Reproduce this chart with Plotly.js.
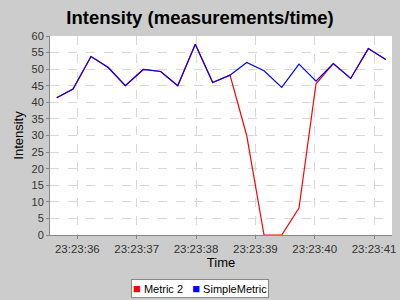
<!DOCTYPE html>
<html>
<head>
<meta charset="utf-8">
<script src="https://cdn.plot.ly/plotly-3.0.1.min.js"></script>
<style>html,body{margin:0;padding:0;background:#cccccc;}#chart{width:400px;height:300px;}</style>
</head>
<body>
<div id="chart"></div>
<script>
const times = ["2024-01-01 23:23:35.653","2024-01-01 23:23:35.928","2024-01-01 23:23:36.231","2024-01-01 23:23:36.522","2024-01-01 23:23:36.809","2024-01-01 23:23:37.112","2024-01-01 23:23:37.405","2024-01-01 23:23:37.692","2024-01-01 23:23:37.988","2024-01-01 23:23:38.281","2024-01-01 23:23:38.573","2024-01-01 23:23:38.854","2024-01-01 23:23:39.146","2024-01-01 23:23:39.444","2024-01-01 23:23:39.735","2024-01-01 23:23:40.022","2024-01-01 23:23:40.313","2024-01-01 23:23:40.606","2024-01-01 23:23:40.903","2024-01-01 23:23:41.196"];
const simpleMetric = [41.4,44.0,53.8,50.5,45.0,49.9,49.3,45.0,57.5,46.0,48.2,52.0,49.5,44.5,51.5,46.4,51.7,47.2,56.2,52.9];
const metric2 = [41.4,44.0,53.8,50.5,45.0,49.9,49.3,45.0,57.5,46.0,48.2,30.0,0,0,8.1,45.6,51.7,47.2,56.2,52.9];
const seriesNames = ["Metric 2","SimpleMetric"];
const seriesColors = ["#ff0000","#0000ff"];
const xRange = ["2024-01-01 23:23:35.54","2024-01-01 23:23:41.302"];

const traces = [
  {x: times, y: metric2, mode: 'lines', name: seriesNames[0], line: {color: seriesColors[0], width: 1.2}, showlegend: false, hoverinfo: 'skip'},
  {x: times, y: simpleMetric, mode: 'lines', name: seriesNames[1], line: {color: seriesColors[1], width: 1.2}, showlegend: false, hoverinfo: 'skip'}
];

const legendText = seriesNames.map((n, i) =>
  "<span style='color:" + seriesColors[i] + ";font-size:13px'>■</span> " + n
).join("&nbsp;&nbsp;&nbsp;");

const layout = {
  width: 400, height: 300,
  paper_bgcolor: '#cccccc', plot_bgcolor: '#ffffff',
  margin: {l: 50, r: 8, t: 36, b: 65},
  font: {family: 'Liberation Sans, Arial, sans-serif', color: '#000'},
  title: {text: 'Intensity (measurements/time)', font: {size: 18.5, family: 'Liberation Sans, Arial, sans-serif', weight: 'bold', color: '#000'}, x: 0.5, xanchor: 'center', y: 0.94, yanchor: 'middle'},
  xaxis: {
    type: 'date', range: xRange, dtick: 1000, tick0: '2024-01-01 23:23:36', tickformat: '%H:%M:%S',
    showgrid: true, gridcolor: '#d8d8d8', griddash: 'dash', gridwidth: 1,
    showline: true, linecolor: '#888888', linewidth: 1, mirror: false,
    ticks: 'outside', ticklen: 3, tickcolor: '#888888',
    tickfont: {size: 11.5, color: '#333'},
    title: {text: 'Time', font: {size: 13, color: '#000'}, standoff: 4},
    zeroline: false
  },
  yaxis: {
    range: [0, 60], dtick: 5,
    showgrid: true, gridcolor: '#d8d8d8', griddash: 'dash', gridwidth: 1,
    showline: true, linecolor: '#888888', linewidth: 1,
    ticks: 'outside', ticklen: 3, tickcolor: '#888888',
    tickfont: {size: 11, color: '#333'},
    title: {text: 'Intensity', font: {size: 13, color: '#000'}, standoff: 4},
    zeroline: false
  },
  showlegend: false,
  annotations: [{
    xref: 'paper', yref: 'paper', x: 0.4386, y: -0.269, xanchor: 'center', yanchor: 'middle',
    text: legendText, showarrow: false,
    font: {size: 11, color: '#000'},
    bgcolor: '#ffffff', bordercolor: '#888888', borderwidth: 1, borderpad: 1
  }]
};

Plotly.newPlot('chart', traces, layout, {staticPlot: true, displayModeBar: false});
</script>
</body>
</html>
